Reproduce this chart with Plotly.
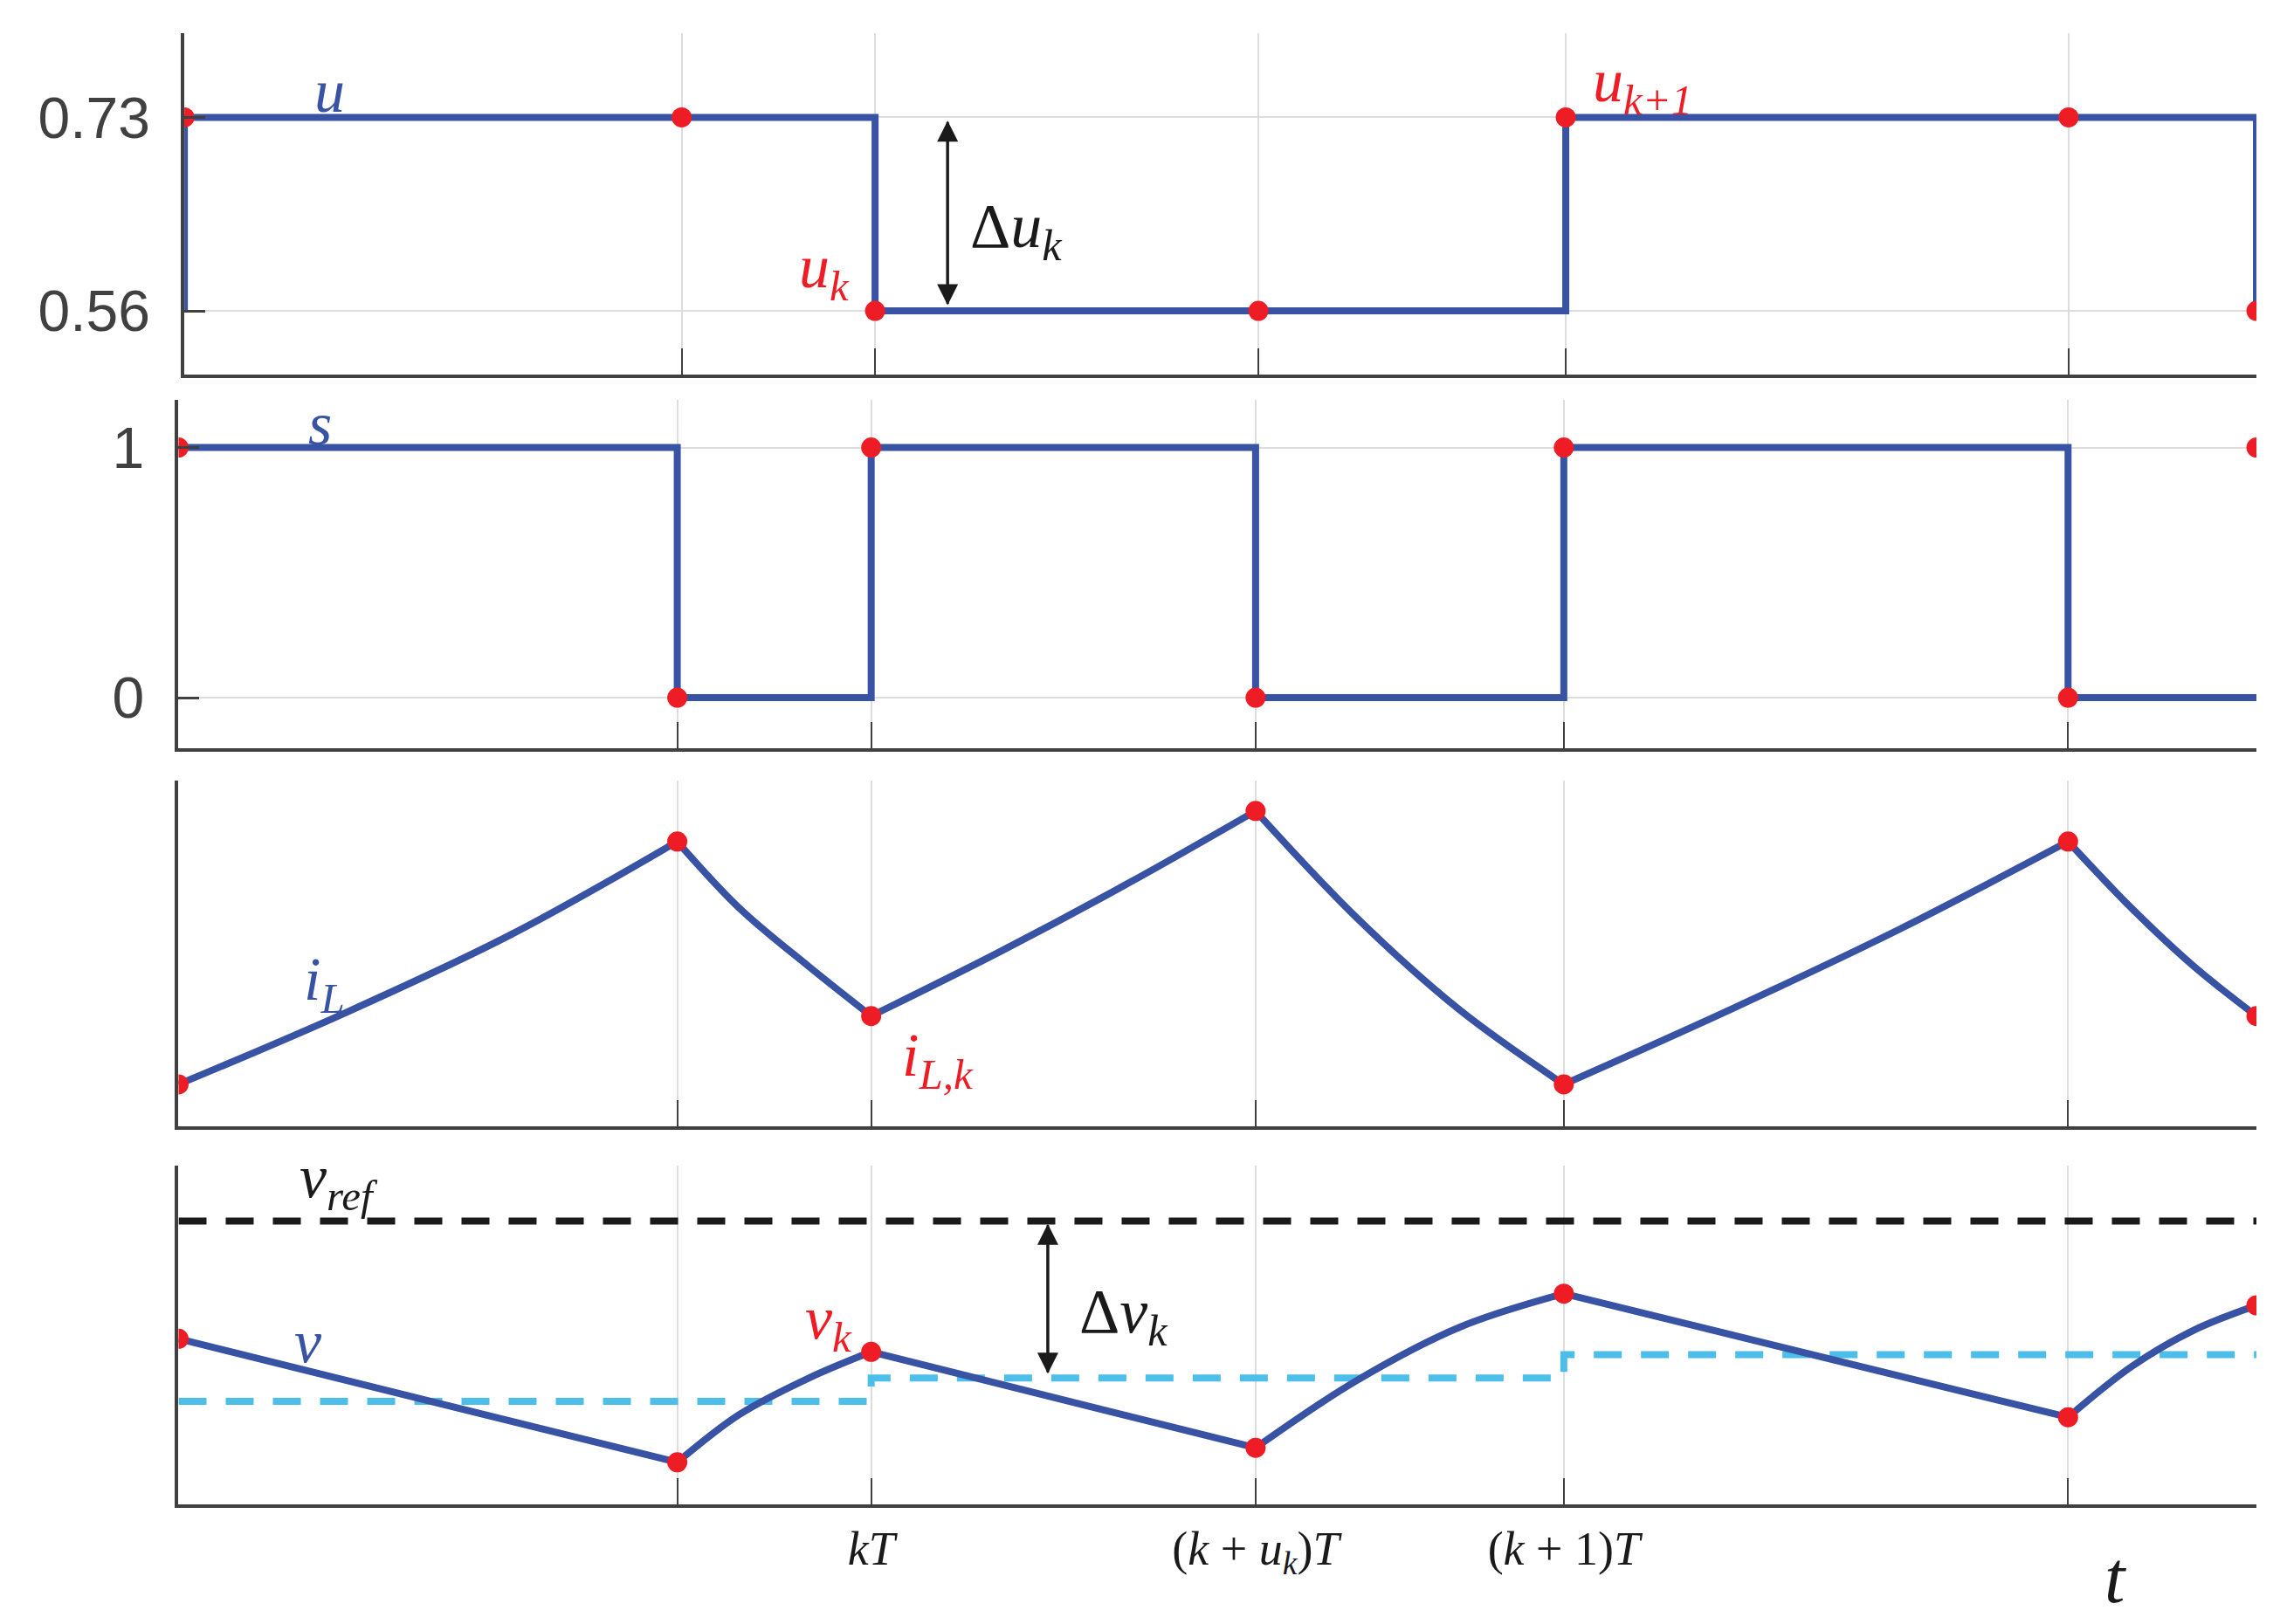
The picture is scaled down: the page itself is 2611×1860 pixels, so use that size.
import plotly.graph_objects as go

# switching instants, in units of T (kT = 0)
t_sw = [-1, -0.28, 0, 0.555, 1, 1.728, 2]

# duty cycle u (piecewise constant per period)
u_edges = [-1, 0, 1, 2]
u_vals = [0.73, 0.56, 0.73]
u_dot_t = [-1, -0.28, 0, 0.555, 1, 1.728, 2]
u_dot_v = [0.73, 0.73, 0.56, 0.56, 0.73, 0.73, 0.56]

# switch state s
s_vals = [1, 0, 1, 0, 1, 0]

# inductor current (arbitrary units)
iL_t = [-1, -0.76, -0.52, -0.28, -0.19, -0.09, 0, 0.185, 0.37, 0.555, 0.70, 0.85, 1,
        1.243, 1.486, 1.728, 1.82, 1.91, 2]
iL_v = [29, 78, 132, 196, 150, 110, 76, 120, 167, 217, 144, 80, 29,
        81, 136, 196, 150, 110, 76]

# output voltage (arbitrary units)
v_t = [-1, -0.28, -0.19, -0.09, 0, 0.555, 0.70, 0.85, 1, 1.728, 1.82, 1.91, 2]
v_v = [114, 29, 62, 87, 105, 39, 85, 122, 145, 60, 95, 120, 137]
v_ref = 195
v_avg_edges = [-1, 0, 1, 2]
v_avg = [71, 87, 103]

BLUE = '#3953a4'
RED = '#ee1c25'
LBLUE = '#4dbdea'
AX = '#404040'
LW = 8
MS = 23

fig = go.Figure()


def segments(ts, vs, xa, ya):
    # one spline trace per switching interval so the corners stay sharp
    for a, b in zip(t_sw[:-1], t_sw[1:]):
        i0, i1 = ts.index(a), ts.index(b)
        fig.add_trace(go.Scatter(x=ts[i0:i1 + 1], y=vs[i0:i1 + 1], mode='lines', line_shape='spline',
                                 line=dict(color=BLUE, width=LW), xaxis=xa, yaxis=ya))


# u
ux, uy = [-1], [0.56]
for i, val in enumerate(u_vals):
    ux += [u_edges[i], u_edges[i + 1]]
    uy += [val, val]
ux.append(2); uy.append(0.56)
fig.add_trace(go.Scatter(x=ux, y=uy, mode='lines', line=dict(color=BLUE, width=LW), xaxis='x', yaxis='y'))
fig.add_trace(go.Scatter(x=u_dot_t, y=u_dot_v, mode='markers', marker=dict(color=RED, size=MS), xaxis='x', yaxis='y'))

# s
sx, sy = [], []
for i, val in enumerate(s_vals):
    sx += [t_sw[i], t_sw[i + 1]]
    sy += [val, val]
fig.add_trace(go.Scatter(x=sx, y=sy, mode='lines', line=dict(color=BLUE, width=LW), xaxis='x2', yaxis='y2'))
s_dots = s_vals + [1]
fig.add_trace(go.Scatter(x=t_sw, y=s_dots, mode='markers', marker=dict(color=RED, size=MS), xaxis='x2', yaxis='y2'))

# iL
segments(iL_t, iL_v, 'x3', 'y3')
fig.add_trace(go.Scatter(x=t_sw, y=[iL_v[iL_t.index(t)] for t in t_sw], mode='markers',
                         marker=dict(color=RED, size=MS), xaxis='x3', yaxis='y3'))

# v
fig.add_trace(go.Scatter(x=[-1, 2], y=[v_ref, v_ref], mode='lines',
                         line=dict(color='#1a1a1a', width=LW, dash='32px,22px'), xaxis='x4', yaxis='y4'))
ax_, ay_ = [], []
for i, val in enumerate(v_avg):
    ax_ += [v_avg_edges[i], v_avg_edges[i + 1]]
    ay_ += [val, val]
fig.add_trace(go.Scatter(x=ax_, y=ay_, mode='lines', line=dict(color=LBLUE, width=LW, dash='32px,22px'),
                         xaxis='x4', yaxis='y4'))
segments(v_t, v_v, 'x4', 'y4')
fig.add_trace(go.Scatter(x=t_sw, y=[v_v[v_t.index(t)] for t in t_sw], mode='markers',
                         marker=dict(color=RED, size=MS), xaxis='x4', yaxis='y4'))

W, H = 1568, 1117  # display units used to place things
doms = [(18, 253), (270, 510), (532, 770), (797, 1030)]
yranges = [[0.5038, 0.804], [-0.203, 1.192], [0, 238], [0, 233]]
ytv = [[0.56, 0.73], [0, 1], [], []]
ytt = [['0.56', '0.73'], ['0', '1'], [], []]

layout = dict(width=2611, height=1860, showlegend=False, plot_bgcolor='white', paper_bgcolor='white',
              margin=dict(l=0, r=0, t=0, b=0))
for i in range(4):
    n = '' if i == 0 else str(i + 1)
    top, bot = doms[i]
    xl = 122 if i == 0 else 118
    layout['xaxis' + n] = dict(domain=[xl / W, 1547 / W], range=[-1, 2], tickvals=t_sw,
                               ticktext=['', '', 'kT', '(k+u_k)T', '(k+1)T', '', ''],
                               showticklabels=(i == 3), showgrid=True, gridcolor='#dddddd', gridwidth=2,
                               ticks='inside', ticklen=30, tickwidth=2, tickcolor=AX,
                               showline=True, linecolor=AX, linewidth=4, zeroline=False,
                               anchor='y' + n, fixedrange=True)
    layout['yaxis' + n] = dict(domain=[1 - bot / H, 1 - top / H], range=yranges[i], tickvals=ytv[i],
                               ticktext=ytt[i], showgrid=True, gridcolor='#dddddd', gridwidth=2,
                               ticks='inside', ticklen=24, tickwidth=3, tickcolor=AX,
                               ticklabelstandoff=22,
                               tickfont=dict(family='Liberation Sans', size=66, color=AX),
                               showline=True, linecolor=AX, linewidth=4, zeroline=False,
                               anchor='x' + n, fixedrange=True)
layout['xaxis4']['ticktext'] = ['', '', '<i>kT</i>', '(<i>k</i> + <i>u<sub>k</sub></i>)<i>T</i>',
                                '(<i>k</i> + 1)<i>T</i>', '', '']
layout['xaxis4']['tickfont'] = dict(family='Liberation Serif', size=54, color='#1a1a1a')
layout['xaxis4']['ticklabelstandoff'] = 0
fig.update_layout(**layout)

SER = 'Liberation Serif'


def lab(px, py, text, color, size=70):
    fig.add_annotation(x=px / W, y=1 - py / H, xref='paper', yref='paper', text=text, showarrow=False,
                       xanchor='center', yanchor='middle',
                       font=dict(family=SER, size=size, color=color))


lab(222, 58, '<i>u</i>', BLUE)
lab(215, 287, '<i>s</i>', BLUE)
lab(218, 672, '<i>i<sub>L</sub></i>', BLUE)
lab(207, 918, '<i>v</i>', BLUE)
lab(228, 808, '<i>v<sub>ref</sub></i>', '#1a1a1a')
lab(562, 182, '<i>u<sub>k</sub></i>', RED)
lab(1125, 54, '<i>u<sub>k+1</sub></i>', RED)
lab(640, 724, '<i>i<sub>L,k</sub></i>', RED)
lab(565, 905, '<i>v<sub>k</sub></i>', RED)
lab(694, 154, 'Δ<i>u<sub>k</sub></i>', '#1a1a1a', 72)
lab(768, 900, 'Δ<i>v<sub>k</sub></i>', '#1a1a1a', 72)
lab(1450, 1080, '<i>t</i>', '#1a1a1a', 84)

# double arrows
for (xr, yr, xa, y0, y1) in [('x', 'y', 0.105, 0.727, 0.565), ('x4', 'y4', 0.255, v_ref - 2, 90)]:
    for a, b in [(y0, y1), (y1, y0)]:
        fig.add_annotation(x=xa, y=a, ax=xa, ay=b, xref=xr, yref=yr, axref=xr, ayref=yr, text='',
                           showarrow=True, arrowhead=2, arrowsize=1.6, arrowwidth=3, arrowcolor='#1a1a1a')

fig.write_html('out.html')
